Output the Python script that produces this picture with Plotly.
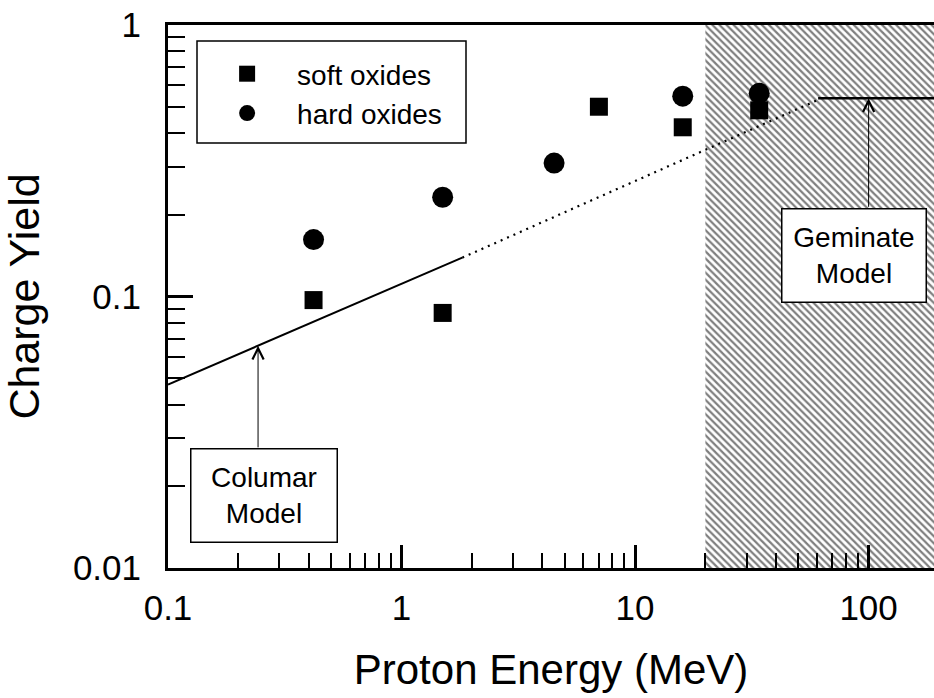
import numpy as np
import plotly.graph_objects as go

# ---- data ----
soft_x = [0.42, 1.5, 7.0, 16.0, 34.0]
soft_y = [0.097, 0.087, 0.50, 0.42, 0.485]
hard_x = [0.42, 1.5, 4.5, 16.0, 34.0]
hard_y = [0.162, 0.232, 0.31, 0.547, 0.56]

columnar_solid_x = [0.1, 1.82]
columnar_solid_y = [0.0474, 0.139]
columnar_dot_x = [1.82, 60.8]
columnar_dot_y = [0.139, 0.53]
geminate_x = [60.8, 1000.0]
geminate_y = [0.537, 0.537]

hatch_x = [20.0, 1000.0, 1000.0, 20.0]
hatch_y = [0.01, 0.01, 1.0, 1.0]

x_tickvals = [0.1, 1, 10, 100]
x_ticktext = ["0.1", "1", "10", "100"]
y_tickvals = [0.01, 0.1, 1]
y_ticktext = ["0.01", "0.1", "1"]

FONT = "Liberation Sans, Arial, sans-serif"

fig = go.Figure()

fig.add_trace(go.Scatter(
    x=hatch_x, y=hatch_y, mode="lines", fill="toself",
    line=dict(width=0, color="rgba(0,0,0,0)"),
    fillcolor="rgba(0,0,0,0)",
    fillpattern=dict(shape="\\", size=5, solidity=0.45, fgcolor="black", bgcolor="white"),
    showlegend=False, hoverinfo="skip"))

fig.add_trace(go.Scatter(x=columnar_solid_x, y=columnar_solid_y, mode="lines",
                         line=dict(color="black", width=2), showlegend=False))
fig.add_trace(go.Scatter(x=columnar_dot_x, y=columnar_dot_y, mode="lines",
                         line=dict(color="black", width=2.2, dash="2px,5px"), showlegend=False))
fig.add_trace(go.Scatter(x=geminate_x, y=geminate_y, mode="lines",
                         line=dict(color="black", width=2.5), showlegend=False))

fig.add_trace(go.Scatter(x=soft_x, y=soft_y, mode="markers", name="soft oxides",
                         marker=dict(symbol="square", size=18, color="black")))
fig.add_trace(go.Scatter(x=hard_x, y=hard_y, mode="markers", name="hard oxides",
                         marker=dict(symbol="circle", size=21, color="black")))

def minor_vals(lo, hi):
    vals = []
    for d in range(lo, hi):
        for m in range(2, 10):
            vals.append(m * 10.0 ** d)
    return vals

fig.update_xaxes(
    type="log", range=[-1, 2.28],
    showline=True, linecolor="black", linewidth=3, mirror=True,
    showgrid=False, zeroline=False,
    tickmode="array", tickvals=x_tickvals, ticktext=x_ticktext,
    ticks="inside", ticklen=23, tickwidth=2.5, tickcolor="black",
    minor=dict(ticks="inside", ticklen=15, tickwidth=2, tickcolor="black",
               tickmode="array", tickvals=minor_vals(-1, 3), showgrid=False),
    tickfont=dict(family=FONT, size=35, color="black"),
    ticklabelstandoff=7,
    title=dict(text="Proton Energy (MeV)", font=dict(family=FONT, size=42, color="black"),
               standoff=29),
)
fig.update_yaxes(
    type="log", range=[-2, 0],
    showline=True, linecolor="black", linewidth=3,
    showgrid=False, zeroline=False,
    tickmode="array", tickvals=y_tickvals, ticktext=y_ticktext,
    ticks="inside", ticklen=25, tickwidth=2.5, tickcolor="black",
    minor=dict(ticks="inside", ticklen=17, tickwidth=2, tickcolor="black",
               tickmode="array", tickvals=minor_vals(-2, 0), showgrid=False),
    tickfont=dict(family=FONT, size=35, color="black"),
    ticklabelstandoff=17,
    title=dict(text="Charge Yield", font=dict(family=FONT, size=43, color="black"),
               standoff=28),
)

annot_font = dict(family=FONT, size=28, color="black")
# Columar model: arrow + box
fig.add_annotation(
    x=np.log10(0.243), y=np.log10(0.0658), xref="x", yref="y",
    text="", showarrow=True, ax=0, ay=103,
    arrowhead=5, arrowsize=2.2, arrowwidth=1, arrowcolor="black")
fig.add_annotation(
    x=np.log10(0.257), y=np.log10(0.01857), xref="x", yref="y",
    text="Columar<br>Model", showarrow=False,
    font=annot_font, bgcolor="white", bordercolor="black", borderwidth=1.5,
    borderpad=10, width=125, height=72, align="center")

# Geminate model: arrow + box
fig.add_annotation(
    x=2, y=np.log10(0.537), xref="x", yref="y",
    text="", showarrow=True, ax=0, ay=110,
    arrowhead=5, arrowsize=2.2, arrowwidth=1, arrowcolor="black")
fig.add_annotation(
    x=np.log10(86.3), y=np.log10(0.142), xref="x", yref="y",
    text="Geminate<br>Model", showarrow=False,
    font=annot_font, bgcolor="white", bordercolor="black", borderwidth=1.5,
    borderpad=10, width=123, height=72, align="center")

# legend frame
fig.add_shape(type="rect", xref="paper", yref="paper",
              x0=(197 - 168) / 766, x1=(466 - 168) / 766,
              y0=1 - (143 - 25) / 543, y1=1 - (41 - 25) / 543,
              line=dict(color="black", width=1.5), fillcolor="white", layer="below")

fig.update_layout(
    width=934, height=698,
    margin=dict(l=168, r=0, t=25, b=130),
    plot_bgcolor="white", paper_bgcolor="white",
    font=dict(family=FONT, color="black"),
    legend=dict(x=0.038, y=1 - (49 - 25) / 543, xanchor="left", yanchor="top",
                bgcolor="rgba(0,0,0,0)", borderwidth=0,
                font=dict(family=FONT, size=28, color="black"),
                itemwidth=90, tracegroupgap=0),
    showlegend=True,
)

fig.write_html("out.html")
